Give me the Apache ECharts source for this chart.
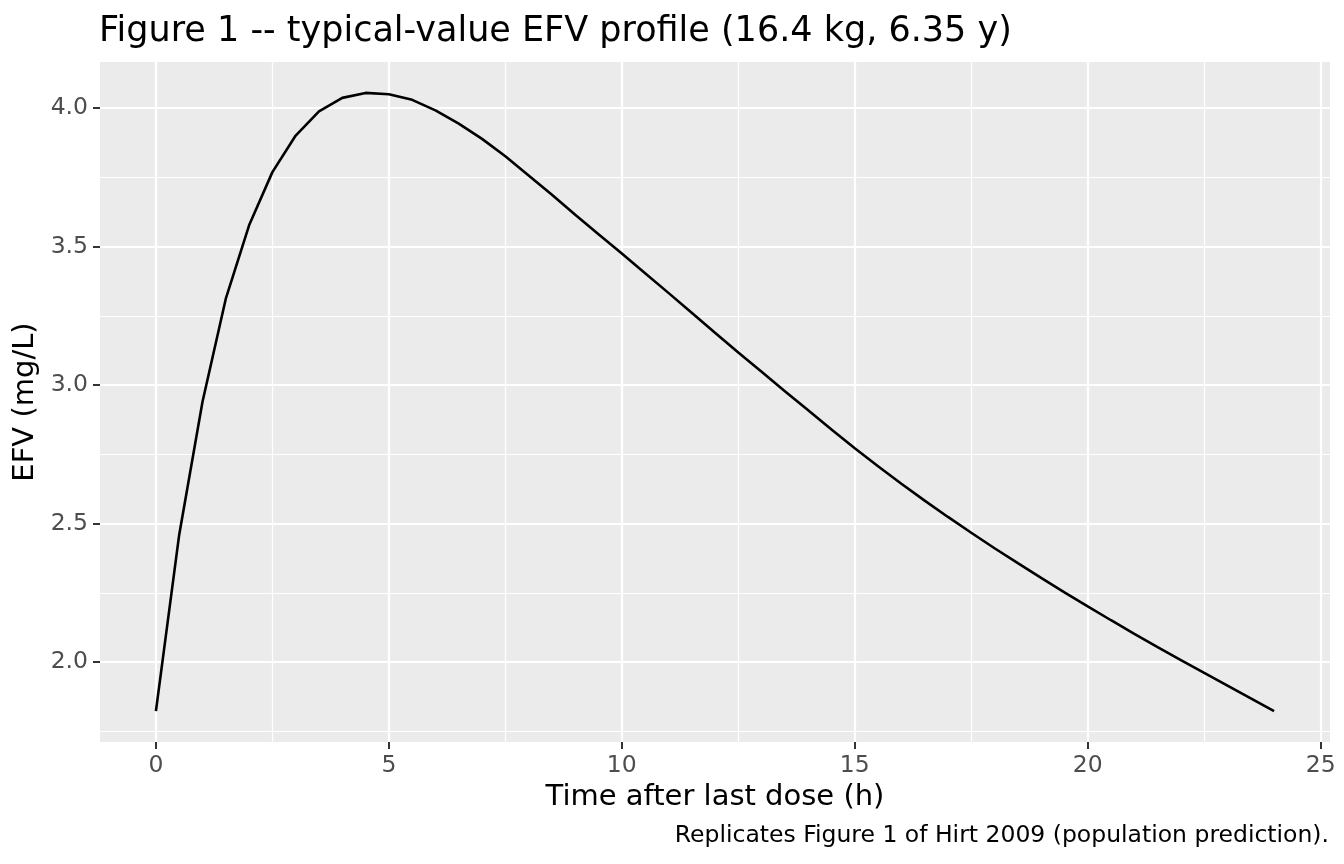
<!DOCTYPE html>
<html>
<head>
<meta charset="utf-8">
<script src="https://cdn.jsdelivr.net/npm/echarts@6/dist/echarts.min.js"></script>
<style>
  html, body { margin: 0; padding: 0; background: #ffffff; }
  #chart-container { width: 1344px; height: 864px; }
</style>
</head>
<body>
<div id="chart-container"></div>
<script>
// Tiempo tras la última dosis (h)
var tiempo = [0, 0.5, 1, 1.5, 2, 2.5, 3, 3.5, 4, 4.5, 5, 5.5, 6, 6.5, 7, 7.5, 8, 8.5, 9, 9.5,
  10, 10.5, 11, 11.5, 12, 12.5, 13, 13.5, 14, 14.5, 15, 15.5, 16, 16.5, 17, 17.5, 18, 18.5, 19, 19.5,
  20, 20.5, 21, 21.5, 22, 22.5, 23, 23.5, 24];

// Concentración EFV típica (mg/L)
var efv = [1.823, 2.460, 2.940, 3.312, 3.577, 3.769, 3.901, 3.988, 4.037, 4.055, 4.050, 4.030, 3.992, 3.944, 3.889, 3.826,
  3.757, 3.687, 3.615, 3.545, 3.475, 3.404, 3.333, 3.261, 3.189, 3.118, 3.048, 2.978, 2.909, 2.840, 2.772,
  2.707, 2.644, 2.583, 2.524, 2.467, 2.411, 2.357, 2.304, 2.252, 2.201, 2.151, 2.102, 2.054, 2.007, 1.961,
  1.915, 1.869, 1.823];

// Marcas de los ejes
var ticksX = [0, 5, 10, 15, 20, 25];
var ticksXMenores = [2.5, 7.5, 12.5, 17.5, 22.5];
var ticksY = [2.0, 2.5, 3.0, 3.5, 4.0];
var ticksYMenores = [1.75, 2.25, 2.75, 3.25, 3.75];

// Textos
var titulo = "Figure 1 -- typical-value EFV profile (16.4 kg, 6.35 y)";
var tituloX = "Time after last dose (h)";
var tituloY = "EFV (mg/L)";
var pie = "Replicates Figure 1 of Hirt 2009 (population prediction).";

// Expansión del rango como en ggplot (5% a cada lado)
function expandir(valores) {
  var lo = Math.min.apply(null, valores);
  var hi = Math.max.apply(null, valores);
  var d = (hi - lo) * 0.05;
  return [lo - d, hi + d];
}

var rangoX = expandir(tiempo);
var rangoY = expandir(efv);
var fuente = "DejaVu Sans";

var option = {
  animation: false,
  backgroundColor: "#ffffff",
  title: {
    text: titulo,
    left: 94,
    top: 9,
    textStyle: { fontFamily: fuente, fontSize: 35, fontWeight: "normal", color: "#000000" },
  },
  grid: { left: 100, right: 14, top: 62, bottom: 122, show: true, backgroundColor: "#EBEBEB", borderWidth: 0 },
  xAxis: [
    {
      type: "value",
      min: rangoX[0],
      max: rangoX[1],
      position: "bottom",
      name: tituloX,
      nameLocation: "middle",
      nameGap: 41,
      nameTextStyle: { fontFamily: fuente, fontSize: 29, color: "#000000" },
      axisLine: { show: false, onZero: false },
      axisTick: { show: true, length: 7, customValues: ticksX, lineStyle: { color: "#333333", width: 2 } },
      axisLabel: {
        customValues: ticksX,
        margin: 12,
        fontFamily: fuente,
        fontSize: 23.5,
        color: "#4D4D4D",
        formatter: function (v) { return String(v); },
      },
      splitLine: { show: true, lineStyle: { color: "#FFFFFF", width: 2.2 } },
    },
    {
      type: "value",
      min: rangoX[0],
      max: rangoX[1],
      position: "top",
      axisLine: { show: false, onZero: false },
      axisTick: { show: false, customValues: ticksXMenores },
      axisLabel: { show: false, customValues: ticksXMenores },
      splitLine: { show: true, lineStyle: { color: "#FFFFFF", width: 1.2 } },
    },
  ],
  yAxis: [
    {
      type: "value",
      min: rangoY[0],
      max: rangoY[1],
      position: "left",
      name: tituloY,
      nameLocation: "middle",
      nameGap: 55,
      nameTextStyle: { fontFamily: fuente, fontSize: 29, color: "#000000" },
      axisLine: { show: false, onZero: false },
      axisTick: { show: true, length: 7, customValues: ticksY, lineStyle: { color: "#333333", width: 2 } },
      axisLabel: {
        customValues: ticksY,
        margin: 12,
        fontFamily: fuente,
        fontSize: 23.5,
        color: "#4D4D4D",
        formatter: function (v) { return v.toFixed(1); },
      },
      splitLine: { show: true, lineStyle: { color: "#FFFFFF", width: 2.2 } },
    },
    {
      type: "value",
      min: rangoY[0],
      max: rangoY[1],
      position: "right",
      axisLine: { show: false, onZero: false },
      axisTick: { show: false, customValues: ticksYMenores },
      axisLabel: { show: false, customValues: ticksYMenores },
      splitLine: { show: true, lineStyle: { color: "#FFFFFF", width: 1.2 } },
    },
  ],
  graphic: [
    {
      type: "text",
      right: 15,
      top: 824,
      style: { text: pie, font: "23.5px 'DejaVu Sans'", fill: "#000000" },
    },
  ],
  series: [
    {
      name: "EFV",
      type: "line",
      xAxisIndex: 0,
      yAxisIndex: 0,
      data: tiempo.map(function (t, i) { return [t, efv[i]]; }),
      showSymbol: false,
      smooth: false,
      lineStyle: { color: "#000000", width: 2.6 },
      z: 5,
    },
  ],
};

var dom = document.getElementById("chart-container");
var myChart = echarts.init(dom, null, { renderer: "canvas" });
myChart.setOption(option);
</script>
</body>
</html>
